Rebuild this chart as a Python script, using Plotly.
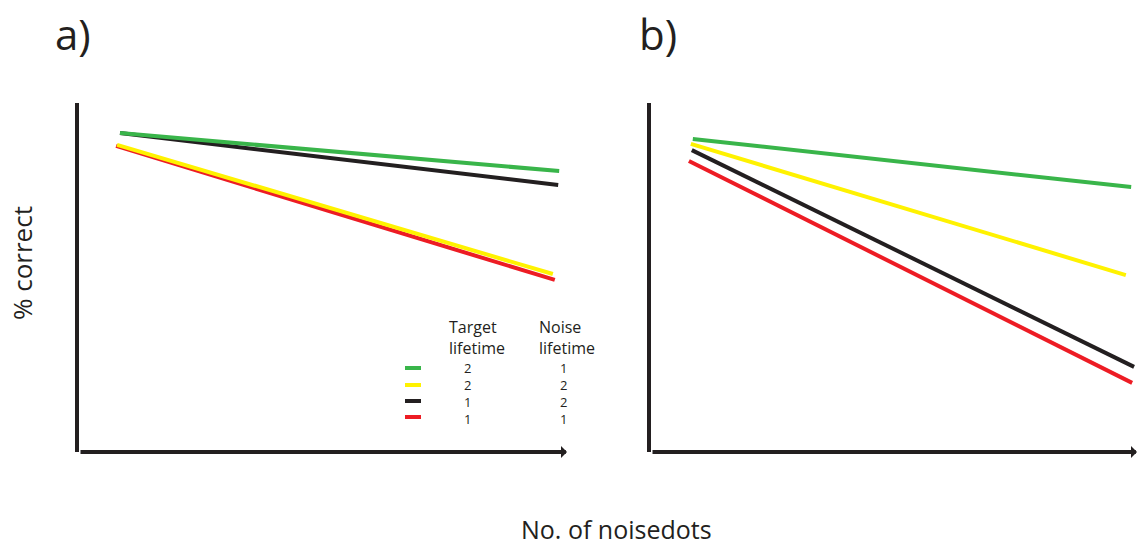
import plotly.graph_objects as go

W, H = 1138, 548

# ---- data (arbitrary units: x = number of noise dots, y = % correct) ----
series_names = ["green", "yellow", "black", "red"]
colors = {"green": "#39b54a", "yellow": "#fff200", "black": "#231f20", "red": "#ed1c24"}
target_lifetime = [2, 2, 1, 1]
noise_lifetime = [1, 2, 2, 1]

# panel a
a_x = {"green": [8.4, 98.4], "yellow": [7.8, 97.1], "black": [8.4, 98.2], "red": [7.6, 97.5]}
a_y = {"green": [91.4, 80.5], "yellow": [88.0, 51.0], "black": [91.4, 76.5], "red": [87.7, 49.3]}
# panel b
b_x = {"green": [8.6, 98.8], "yellow": [8.2, 97.7], "black": [8.4, 99.4], "red": [7.8, 99.0]}
b_y = {"green": [89.7, 75.9], "yellow": [88.3, 50.7], "black": [86.5, 24.4], "red": [83.4, 19.8]}

panel_labels = ["a)", "b)"]
x_title = "No. of noisedots"
y_title = "% correct"

FONT = "Open Sans"
AXC = "#231f20"


def px(x):
    return x / W


def py(y):
    return 1 - y / H


fig = go.Figure()

draw_order_a = ["red", "yellow", "black", "green"]
draw_order_b = ["red", "black", "yellow", "green"]
for s in draw_order_a:
    fig.add_trace(go.Scatter(x=a_x[s], y=a_y[s], mode="lines", xaxis="x", yaxis="y",
                             line=dict(color=colors[s], width=4), showlegend=False,
                             hoverinfo="skip"))
for s in draw_order_b:
    fig.add_trace(go.Scatter(x=b_x[s], y=b_y[s], mode="lines", xaxis="x2", yaxis="y2",
                             line=dict(color=colors[s], width=4), showlegend=False,
                             hoverinfo="skip"))

ydom = [py(452), py(103)]
axis_common = dict(showgrid=False, zeroline=False, showticklabels=False, ticks="",
                   fixedrange=True)
fig.update_layout(
    width=W, height=H,
    margin=dict(l=0, r=0, t=0, b=0),
    paper_bgcolor="white", plot_bgcolor="white",
    xaxis=dict(domain=[px(79), px(567)], range=[0, 100], showline=False, anchor="y", **axis_common),
    yaxis=dict(domain=ydom, range=[0, 100], showline=True, linewidth=4, linecolor=AXC,
               anchor="x", **axis_common),
    xaxis2=dict(domain=[px(651), px(1137)], range=[0, 100], showline=False, anchor="y2", **axis_common),
    yaxis2=dict(domain=ydom, range=[0, 100], showline=True, linewidth=4, linecolor=AXC,
                anchor="x2", **axis_common),
)

annotations = []
# x-axis arrows
for xr, yr in [("x", "y"), ("x2", "y2")]:
    annotations.append(dict(x=100, y=0, ax=0, ay=0, xref=xr, yref=yr, axref=xr, ayref=yr,
                            showarrow=True, arrowhead=1, arrowsize=0.5, arrowwidth=4,
                            arrowcolor=AXC, text=""))

# panel labels
for lab, cx in zip(panel_labels, [73, 658]):
    annotations.append(dict(x=px(cx), y=py(33), xref="paper", yref="paper", text=lab,
                            showarrow=False, font=dict(family=FONT, size=42, color=AXC),
                            xanchor="center", yanchor="middle"))

# axis titles
annotations.append(dict(x=px(22), y=py(263), xref="paper", yref="paper", text=y_title,
                        textangle=-90, showarrow=False,
                        font=dict(family=FONT, size=26, color=AXC),
                        xanchor="center", yanchor="middle"))
annotations.append(dict(x=px(616), y=py(529), xref="paper", yref="paper", text=x_title,
                        showarrow=False, font=dict(family=FONT, size=25, color=AXC),
                        xanchor="center", yanchor="middle"))

# legend table
annotations.append(dict(x=px(477), y=py(337), xref="paper", yref="paper",
                        text="Target<br>lifetime", showarrow=False, align="left",
                        font=dict(family=FONT, size=16, color=AXC),
                        xanchor="center", yanchor="middle"))
annotations.append(dict(x=px(567), y=py(337), xref="paper", yref="paper",
                        text="Noise<br>lifetime", showarrow=False, align="left",
                        font=dict(family=FONT, size=16, color=AXC),
                        xanchor="center", yanchor="middle"))
row_y = [368, 385, 401, 417]
for cx, vals in [(468, target_lifetime), (563, noise_lifetime)]:
    annotations.append(dict(x=px(cx), y=py(sum(row_y) / len(row_y) + 1), xref="paper", yref="paper",
                            text="<br>".join(str(v) for v in vals), showarrow=False,
                            align="center", font=dict(family=FONT, size=13, color=AXC),
                            xanchor="center", yanchor="middle"))
shapes = []
for i, s in enumerate(series_names):
    shapes.append(dict(type="line", xref="paper", yref="paper",
                       x0=px(405), x1=px(421), y0=py(row_y[i]), y1=py(row_y[i]),
                       line=dict(color=colors[s], width=4)))

fig.update_layout(annotations=annotations, shapes=shapes)
fig.write_html("out.html")
